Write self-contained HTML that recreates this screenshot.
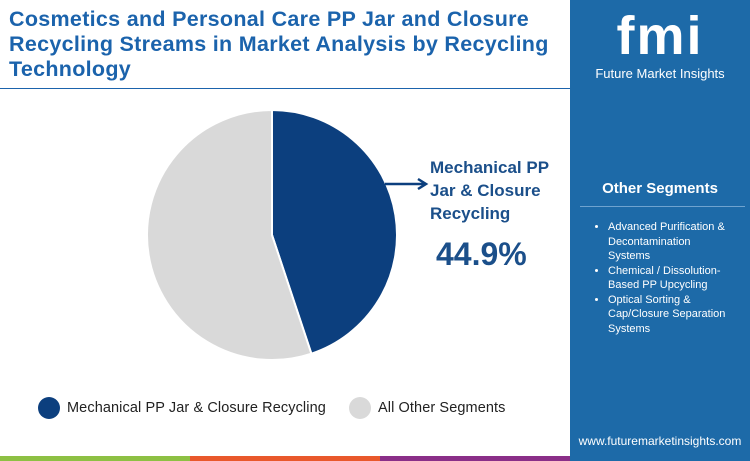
<!DOCTYPE html>
<html><head><meta charset="utf-8"><style>
body{margin:0;width:750px;height:461px;position:relative;overflow:hidden;background:#fff;font-family:"Liberation Sans",sans-serif}
.t{position:absolute;left:9px;top:7px;font-size:21.5px;font-weight:bold;color:#1b63ac;line-height:25px;width:560px;letter-spacing:0.3px}
.panel{position:absolute;left:570px;top:0;width:180px;height:456px;background:#1d6aa8}
</style></head><body>
<div class="t">Cosmetics and Personal Care PP Jar and Closure Recycling Streams in Market Analysis by Recycling Technology</div>
<div style="position:absolute;left:0;top:88px;width:570px;height:1px;background:#1b63ac"></div>
<div class="panel">
 <div style="position:absolute;left:0;top:8px;width:180px;text-align:center;color:#fff;font-size:54px;font-weight:bold;letter-spacing:2px;line-height:56px">fmi</div>
 <div style="position:absolute;left:0;top:66px;width:180px;text-align:center;color:#fff;font-size:13px">Future Market Insights</div>
 <div style="position:absolute;left:0;top:180px;width:180px;text-align:center;color:#fff;font-size:15px;font-weight:bold">Other Segments</div>
 <div style="position:absolute;left:10px;top:206px;width:165px;height:1px;background:#6fa3cf"></div>
 <ul style="position:absolute;left:8px;top:220px;margin:0;padding-left:30px;color:#fff;font-size:11px;line-height:14.5px;width:122px">
  <li>Advanced Purification &amp; Decontamination Systems</li>
  <li>Chemical / Dissolution-Based PP Upcycling</li>
  <li>Optical Sorting &amp; Cap/Closure Separation Systems</li>
 </ul>
 <div style="position:absolute;left:0;top:434px;width:180px;text-align:center;color:#fff;font-size:12px">www.futuremarketinsights.com</div>
</div>
<div style="position:absolute;top:456px;left:0;width:190px;height:5px;background:#8dc043"></div>
<div style="position:absolute;top:456px;left:190px;width:190px;height:5px;background:#e9582b"></div>
<div style="position:absolute;top:456px;left:380px;width:190px;height:5px;background:#8a2e88"></div>
<div style="position:absolute;top:456px;left:570px;width:180px;height:5px;background:#1d6aa8"></div>
<svg id="pie" width="570" height="456" style="position:absolute;left:0;top:0"></svg>
<div style="position:absolute;left:430px;top:156px;color:#1b4f8a;font-size:17px;font-weight:bold;line-height:23px">Mechanical PP<br>Jar &amp; Closure<br>Recycling</div>
<div style="position:absolute;left:436px;top:236px;color:#1b4f8a;font-size:32px;font-weight:bold">44.9%</div>
<div style="position:absolute;left:38px;top:397px;width:22px;height:22px;border-radius:50%;background:#0c3f7e"></div>
<div style="position:absolute;left:67px;top:400px;font-size:14.5px;letter-spacing:0.1px;color:#222">Mechanical PP Jar &amp; Closure Recycling</div>
<div style="position:absolute;left:349px;top:397px;width:22px;height:22px;border-radius:50%;background:#d9d9d9"></div>
<div style="position:absolute;left:378px;top:400px;font-size:14.5px;letter-spacing:0.1px;color:#222">All Other Segments</div>
<script>
const categories=["Mechanical PP Jar & Closure Recycling","All Other Segments"];
const values=[44.9,55.1];
const colors=["#0c3f7e","#d9d9d9"];
const svg=document.getElementById('pie');
const cx=272,cy=235,r=125,NS="http://www.w3.org/2000/svg";
const total=values.reduce((a,b)=>a+b,0);
let a0=0;
values.forEach((v,i)=>{
 const a1=a0+v/total*2*Math.PI;
 const x0=cx+r*Math.sin(a0),y0=cy-r*Math.cos(a0),x1=cx+r*Math.sin(a1),y1=cy-r*Math.cos(a1);
 const p=document.createElementNS(NS,'path');
 p.setAttribute('d',`M${cx},${cy}L${x0},${y0}A${r},${r} 0 ${a1-a0>Math.PI?1:0} 1 ${x1},${y1}Z`);
 p.setAttribute('fill',colors[i]);p.setAttribute('stroke','#fff');p.setAttribute('stroke-width','2');
 
 
 svg.appendChild(p);a0=a1;
});
const ar=document.createElementNS(NS,'path');
ar.setAttribute('d','M385,184 L424,184 M418,179 L426,184 L418,189');
ar.setAttribute('stroke','#0c3f7e');ar.setAttribute('stroke-width','2.5');ar.setAttribute('fill','none');


svg.appendChild(ar);
</script>
</body></html>
